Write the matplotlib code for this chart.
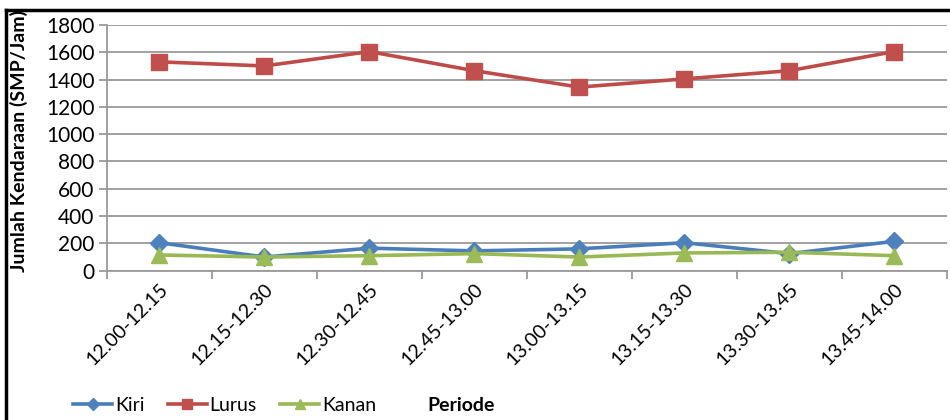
import matplotlib
matplotlib.use("Agg")
import matplotlib.pyplot as plt
from matplotlib.lines import Line2D
import numpy as np

periods = ["12.00-12.15", "12.15-12.30", "12.30-12.45", "12.45-13.00",
           "13.00-13.15", "13.15-13.30", "13.30-13.45", "13.45-14.00"]
kiri = [205, 100, 165, 145, 160, 205, 125, 215]
lurus = [1530, 1500, 1605, 1465, 1345, 1405, 1465, 1605]
kanan = [115, 100, 110, 125, 100, 130, 135, 110]
y_ticks = [0, 200, 400, 600, 800, 1000, 1200, 1400, 1600, 1800]

plt.rcParams['font.family'] = ['Lato', 'DejaVu Sans']

fig = plt.figure(figsize=(9.5, 4.2), dpi=100)
ax = fig.add_axes([0.1126, 0.3555, 0.884, 0.585])

x = np.arange(len(periods))
grid_c = "#9a9a9a"

series = [
    ("Kiri", kiri, "#4A7EBB", "#4F81BD", "D", 9),
    ("Lurus", lurus, "#BE4B48", "#C0504D", "s", 11),
    ("Kanan", kanan, "#98B954", "#9BBB59", "^", 11),
]
handles = []
for name, vals, lc, mc, mk, ms in series:
    ax.plot(x, vals, color=lc, lw=2.6, marker=mk, ms=ms,
            markerfacecolor=mc, markeredgecolor=mc, zorder=3)
    handles.append(Line2D([], [], color=lc, lw=2.6, marker=mk, ms=ms * 0.7,
                          markerfacecolor=mc, markeredgecolor=mc))

ax.set_xlim(-0.5, len(periods) - 0.5)
ax.set_ylim(0, 1800)
ax.set_yticks(y_ticks)
ax.yaxis.grid(True, color=grid_c, lw=1.3)
ax.set_axisbelow(True)

ax.set_xticks(x)
ax.set_xticklabels(periods, rotation=45, ha="right", rotation_mode="anchor",
                   fontsize=14)
ax.set_xticks(np.arange(len(periods) + 1) - 0.5, minor=True)
ax.tick_params(axis="x", which="major", length=0, pad=7)
ax.tick_params(axis="x", which="minor", length=6, color=grid_c, width=1.3)
ax.tick_params(axis="y", length=6, color=grid_c, width=1.3, labelsize=15, pad=3)

for s in ["top", "right"]:
    ax.spines[s].set_visible(False)
for s in ["left", "bottom"]:
    ax.spines[s].set_color(grid_c)
    ax.spines[s].set_linewidth(1.3)

fig.text(0.02, 0.665, "Jumlah Kendaraan (SMP/Jam)", rotation=90,
         ha="center", va="center", fontsize=14, fontweight="bold")
fig.text(0.485, 0.035, "Periode", ha="center", va="center",
         fontsize=14, fontweight="bold")

fig.legend(handles, [s[0] for s in series], loc="center left",
           bbox_to_anchor=(0.077, 0.035), ncol=3, frameon=False,
           fontsize=14, handlelength=2.0, handletextpad=0.15,
           columnspacing=1.2, borderaxespad=0, borderpad=0)

# chart frame
fig.add_artist(Line2D([0.006, 0.006], [0.0, 0.977], color="black", lw=2.5,
                      transform=fig.transFigure))
fig.add_artist(Line2D([0.006, 1.0], [0.977, 0.977], color="black", lw=2.5,
                      transform=fig.transFigure))

fig.savefig("out.png", dpi=100)
